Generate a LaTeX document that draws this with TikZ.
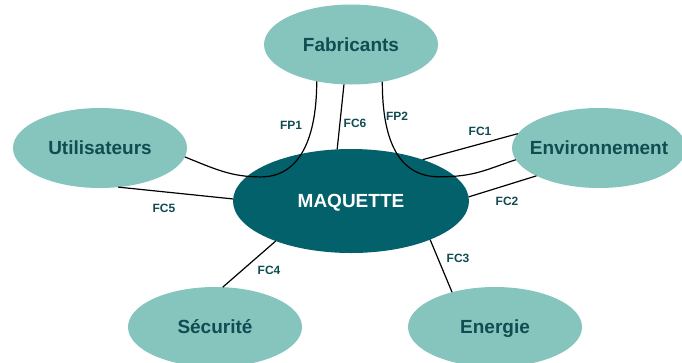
\documentclass[tikz,border=0pt]{standalone}
\usepackage{fontspec}
\setmainfont{Liberation Sans}
\usepackage{tikz}
\usetikzlibrary{shapes.geometric}

\definecolor{lightteal}{HTML}{86C5BE}
\definecolor{darkteal}{HTML}{02616A}
\definecolor{inkteal}{HTML}{114C52}

\begin{document}
\begin{tikzpicture}[x=1pt, y=-1pt]

    % --- DEFINE STYLES ---
    % Style for the outer actors
    \tikzstyle{actor} = [ellipse, fill=lightteal, inner sep=0pt, outer sep=0pt, minimum width=174pt, minimum height=80pt, text=inkteal, font=\fontsize{19}{22}\selectfont\bfseries, text height=13.6pt, text depth=0pt]
    % Style for the product in the middle
    \tikzstyle{product} = [actor, fill=darkteal, text=white, minimum width=236pt, minimum height=104pt]
    % Style for the function labels
    \tikzstyle{fnlabel} = [text=inkteal, font=\fontsize{12}{14}\selectfont\bfseries, inner sep=0pt, text height=8.6pt, text depth=0pt]
    % Style for the links
    \tikzstyle{link} = [black, line width=1.2pt]

    \useasboundingbox (0,0) rectangle (682,362);

    % --- ELLIPSES ---
    \node[product] (mq) at (351,201) {MAQUETTE};
    \node[actor] (fab) at (351,44.5) {Fabricants};
    \node[actor] (util) at (100,148) {Utilisateurs};
    % long word: keep the ellipse at its size
    \node[actor] (env) at (599,148) {\makebox[120pt]{Environnement}};
    \node[actor] (sec) at (215,327) {Sécurité};
    \node[actor] (ene) at (495,327) {Energie};

    % --- LINKS ---
    % principal functions (through the product)
    \draw[link] (util.-6) .. controls +(30,12) and +(-30,0) .. ++(76,20)
        .. controls +(40,0) and +(0,55) .. (fab.-133);
    \draw[link] (fab.-50) .. controls +(0,60) and +(-40,0) .. ++(57,95)
        .. controls +(35,0) and +(-30,10) .. (env.-172);
    % constraint functions
    \draw[link] (fab.-100) -- (mq.105);
    \draw[link] (mq.30) -- (env.170);
    \draw[link] (mq.2) -- (env.-156);
    \draw[link] (util.-65) -- (mq.179);
    \draw[link] (mq.-152) -- (sec.79);
    \draw[link] (mq.-26) -- (ene.141);

    % --- LABELS ---
    \node[fnlabel] (fp1) at (291,125) {FP1};
    \node[fnlabel] (fc6) at (355,123) {FC6};
    \node[fnlabel] (fp2) at (397,116) {FP2};
    \node[fnlabel] (fc1) at (480,131) {FC1};
    \node[fnlabel] (fc2) at (507,201) {FC2};
    \node[fnlabel] (fc5) at (164,208) {FC5};
    \node[fnlabel] (fc4) at (269,270) {FC4};
    \node[fnlabel] (fc3) at (458,258) {FC3};
\end{tikzpicture}
\end{document}
